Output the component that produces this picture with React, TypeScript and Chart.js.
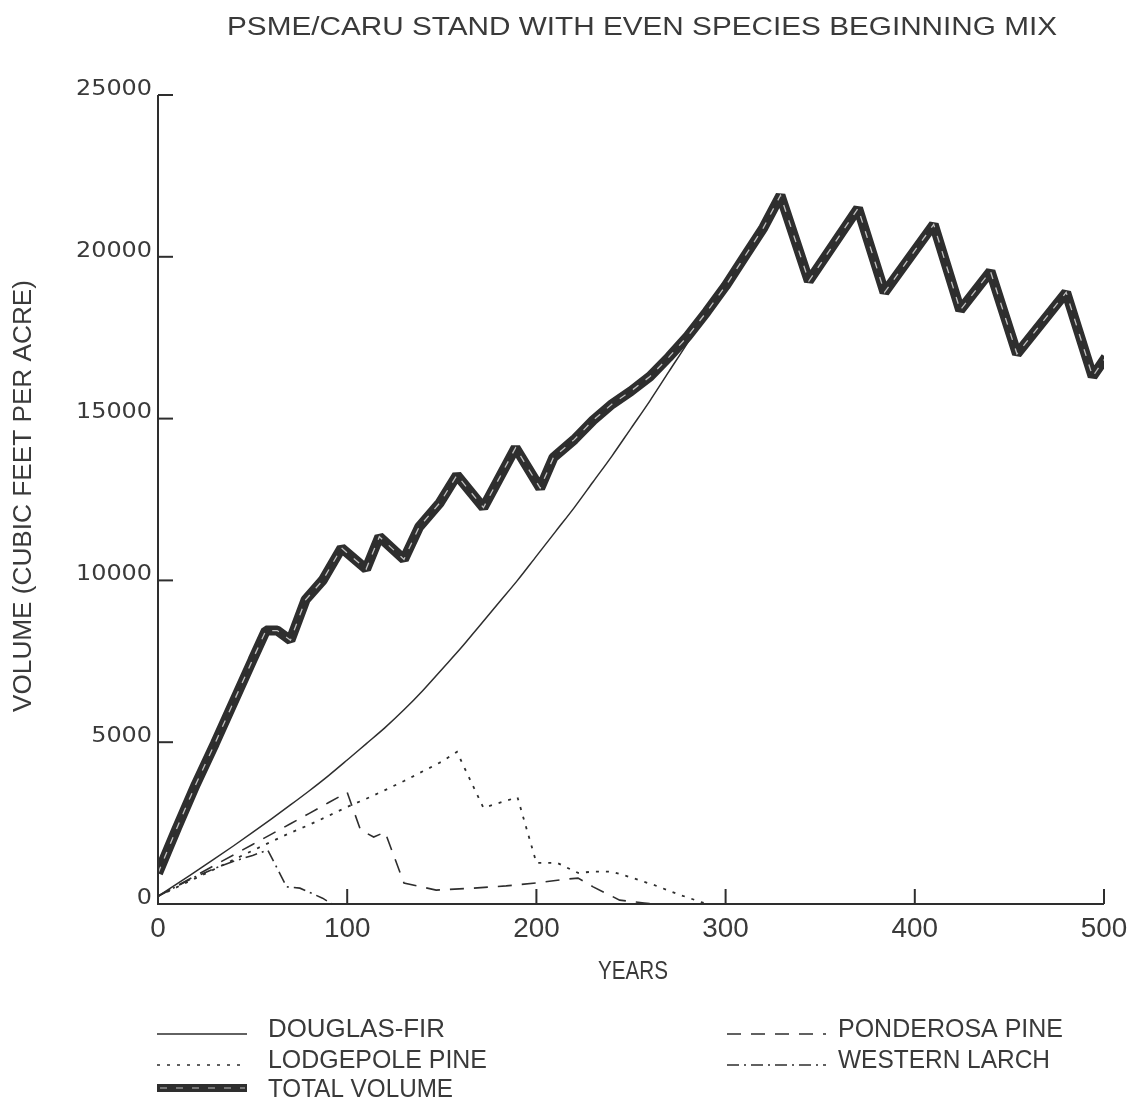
import React, { useEffect, useRef } from "react";
import { Chart, registerables } from "chart.js";

Chart.register(...registerables);

const TITLE = "PSME/CARU STAND WITH EVEN SPECIES BEGINNING MIX";
const X_TITLE = "YEARS";
const Y_TITLE = "VOLUME (CUBIC FEET PER ACRE)";
const X_TICKS = [0, 100, 200, 300, 400, 500];
const Y_TICKS = [0, 5000, 10000, 15000, 20000, 25000];

const dfYears = [0, 10, 20, 30, 40, 50, 60, 70, 80, 90, 100, 110, 120, 130, 140, 150, 160, 170, 180, 190, 200, 210, 220, 230, 240, 250, 260, 270, 280, 290];
const dfValues = [240, 620, 1010, 1400, 1800, 2210, 2630, 3060, 3500, 3960, 4450, 4950, 5450, 6000, 6600, 7250, 7900, 8600, 9300, 10000, 10750, 11500, 12250, 13050, 13850, 14700, 15550, 16450, 17350, 18300];

const lpYears = [0, 10, 20, 30, 40, 50, 60, 70, 80, 90, 100, 110, 120, 130, 140, 150, 158, 172, 190, 200, 211, 222, 230, 240, 250, 262, 275, 290];
const lpValues = [240, 520, 800, 1080, 1370, 1650, 1930, 2200, 2450, 2720, 3000, 3250, 3520, 3800, 4100, 4400, 4700, 2970, 3300, 1270, 1270, 960, 1000, 1000, 820, 590, 300, 0];

const ppYears = [0, 10, 20, 30, 40, 50, 60, 70, 80, 90, 100, 107, 114, 120, 130, 147, 167, 184, 200, 216, 222, 230, 244, 257, 262];
const ppValues = [240, 560, 880, 1200, 1520, 1840, 2160, 2480, 2800, 3130, 3450, 2290, 2070, 2220, 650, 430, 490, 560, 650, 770, 800, 530, 120, 30, 0];

const wlYears = [0, 10, 20, 30, 40, 50, 58, 68, 75, 87, 92];
const wlValues = [240, 550, 850, 1100, 1320, 1500, 1670, 530, 490, 180, 0];

const totalYears = [0, 10, 20, 30, 40, 50, 57, 63, 70, 78, 87, 97, 110, 117, 130, 138, 149, 158, 172, 189, 202, 209, 220, 230, 240, 250, 260, 270, 280, 290, 300, 310, 320, 329, 344, 370, 384, 410, 424, 440, 454, 480, 494, 501];
const totalValues = [950, 2350, 3700, 4950, 6250, 7550, 8450, 8450, 8150, 9400, 10000, 11000, 10350, 11350, 10650, 11650, 12400, 13250, 12250, 14100, 12850, 13800, 14350, 14950, 15450, 15850, 16300, 16900, 17550, 18300, 19100, 20000, 20900, 21900, 19250, 21500, 18900, 21000, 18350, 19550, 17000, 18900, 16300, 16900];

const INK = "#2e2e2e";
const TEXT_INK = "#3a3a3a";
const TEXT_FONT = "'Liberation Sans', Arial, sans-serif";
const NUM_FONT = "'DejaVu Sans', 'Liberation Sans', sans-serif";

const pts = (xs: number[], ys: number[]) => xs.map((x, i) => ({ x, y: ys[i] }));

const DASH_DF: number[] = [];
const DASH_LP = [3, 7];
const DASH_PP = [14, 10];
const DASH_WL = [12, 5, 2, 5];

function fitText(ctx: CanvasRenderingContext2D, text: string, x: number, yCenter: number, width: number, cap: number, font: string, align: "left" | "center" | "right") {
  const size = cap / 0.72;
  ctx.font = `${size}px ${font}`;
  ctx.textAlign = "left";
  ctx.textBaseline = "alphabetic";
  const w = ctx.measureText(text).width;
  const sx = width / w;
  let left = x;
  if (align === "center") left = x - width / 2;
  if (align === "right") left = x - width;
  ctx.save();
  ctx.translate(left, yCenter + cap / 2);
  ctx.scale(sx, 1);
  ctx.fillText(text, 0, 0);
  ctx.restore();
}

const decorPlugin = {
  id: "decor",
  beforeDraw(chart: any) {
    const ctx = chart.ctx as CanvasRenderingContext2D;
    ctx.save();
    ctx.fillStyle = "#ffffff";
    ctx.fillRect(0, 0, chart.width, chart.height);
    ctx.restore();
  },
  afterDraw(chart: any) {
    const ctx = chart.ctx as CanvasRenderingContext2D;
    const xs = chart.scales.x;
    const ys = chart.scales.y;
    ctx.save();
    ctx.strokeStyle = INK;
    ctx.fillStyle = TEXT_INK;
    ctx.lineWidth = 2;
    ctx.setLineDash([]);
    // axes
    ctx.beginPath();
    ctx.moveTo(xs.getPixelForValue(0), ys.getPixelForValue(25000));
    ctx.lineTo(xs.getPixelForValue(0), ys.getPixelForValue(0));
    ctx.lineTo(xs.getPixelForValue(500), ys.getPixelForValue(0));
    ctx.stroke();
    // ticks
    X_TICKS.forEach((v) => {
      const px = xs.getPixelForValue(v);
      const py = ys.getPixelForValue(0);
      ctx.beginPath();
      ctx.moveTo(px, py);
      ctx.lineTo(px, py - 15);
      ctx.stroke();
      fitText(ctx, String(v), px, py + 23, 15.5 * String(v).length, 20, TEXT_FONT, "center");
    });
    Y_TICKS.forEach((v) => {
      const px = xs.getPixelForValue(0);
      const py = ys.getPixelForValue(v);
      ctx.beginPath();
      ctx.moveTo(px, py);
      ctx.lineTo(px + 15, py);
      ctx.stroke();
      fitText(ctx, String(v), px - 6, py - 8, 15.2 * String(v).length, 15.5, NUM_FONT, "right");
    });
    // titles
    fitText(ctx, TITLE, 642, 26, 830, 18, TEXT_FONT, "center");
    fitText(ctx, X_TITLE, 633, 970, 70, 18, TEXT_FONT, "center");
    ctx.save();
    ctx.translate(22, 496);
    ctx.rotate(-Math.PI / 2);
    fitText(ctx, Y_TITLE, 0, 0, 432, 18, TEXT_FONT, "center");
    ctx.restore();

    // legend
    const legendLine = (x1: number, x2: number, y: number, dash: number[]) => {
      ctx.save();
      ctx.lineWidth = 1.5;
      ctx.setLineDash(dash);
      ctx.beginPath();
      ctx.moveTo(x1, y);
      ctx.lineTo(x2, y);
      ctx.stroke();
      ctx.restore();
    };
    legendLine(157, 247, 1034, DASH_DF);
    fitText(ctx, "DOUGLAS-FIR", 268, 1028, 177, 18, TEXT_FONT, "left");
    legendLine(157, 247, 1065, DASH_LP);
    fitText(ctx, "LODGEPOLE PINE", 268, 1059, 219, 18, TEXT_FONT, "left");
    ctx.save();
    ctx.lineWidth = 8;
    ctx.beginPath();
    ctx.moveTo(157, 1088);
    ctx.lineTo(247, 1088);
    ctx.stroke();
    ctx.strokeStyle = "rgba(255,255,255,0.7)";
    ctx.lineWidth = 1.2;
    ctx.setLineDash([7, 9]);
    ctx.beginPath();
    ctx.moveTo(160, 1088);
    ctx.lineTo(245, 1088);
    ctx.stroke();
    ctx.restore();
    fitText(ctx, "TOTAL VOLUME", 268, 1088, 185, 18, TEXT_FONT, "left");
    legendLine(727, 826, 1034, DASH_PP);
    fitText(ctx, "PONDEROSA PINE", 838, 1028, 225, 18, TEXT_FONT, "left");
    legendLine(727, 826, 1065, DASH_WL);
    fitText(ctx, "WESTERN LARCH", 838, 1059, 212, 18, TEXT_FONT, "left");
    ctx.restore();
  },
};

export default function App() {
  const ref = useRef<HTMLCanvasElement | null>(null);
  useEffect(() => {
    if (!ref.current) return;
    const chart = new Chart(ref.current, {
      type: "line",
      data: {
        datasets: [
          {
            label: "TOTAL VOLUME overlay",
            data: pts(totalYears, totalValues),
            borderColor: "rgba(255,255,255,0.7)",
            borderWidth: 1.3,
            borderDash: [7, 9],
            pointRadius: 0,
            order: 0,
          },
          {
            label: "TOTAL VOLUME",
            data: pts(totalYears, totalValues),
            borderColor: INK,
            borderWidth: 10,
            borderJoinStyle: "bevel",
            pointRadius: 0,
            order: 1,
          },
          {
            label: "DOUGLAS-FIR",
            data: pts(dfYears, dfValues),
            borderColor: INK,
            borderWidth: 1.5,
            borderDash: DASH_DF,
            pointRadius: 0,
            cubicInterpolationMode: "monotone",
            order: 2,
          },
          {
            label: "LODGEPOLE PINE",
            data: pts(lpYears, lpValues),
            borderColor: INK,
            borderWidth: 1.8,
            borderDash: DASH_LP,
            pointRadius: 0,
            order: 3,
          },
          {
            label: "PONDEROSA PINE",
            data: pts(ppYears, ppValues),
            borderColor: INK,
            borderWidth: 1.6,
            borderDash: DASH_PP,
            pointRadius: 0,
            order: 4,
          },
          {
            label: "WESTERN LARCH",
            data: pts(wlYears, wlValues),
            borderColor: INK,
            borderWidth: 1.6,
            borderDash: DASH_WL,
            pointRadius: 0,
            order: 5,
          },
        ],
      },
      options: {
        animation: false,
        responsive: false,
        maintainAspectRatio: false,
        layout: { padding: { left: 158, top: 95, right: 39, bottom: 200 } },
        plugins: { legend: { display: false }, title: { display: false }, tooltip: { enabled: false } },
        scales: {
          x: { type: "linear", min: 0, max: 500, display: false },
          y: { type: "linear", min: 0, max: 25000, display: false },
        },
      },
      plugins: [decorPlugin],
    });
    return () => chart.destroy();
  }, []);
  return (
    <div style={{ position: "absolute", left: 0, top: 0, width: 1143, height: 1104, background: "#fff" }}>
      <canvas ref={ref} width={1143} height={1104} />
    </div>
  );
}
